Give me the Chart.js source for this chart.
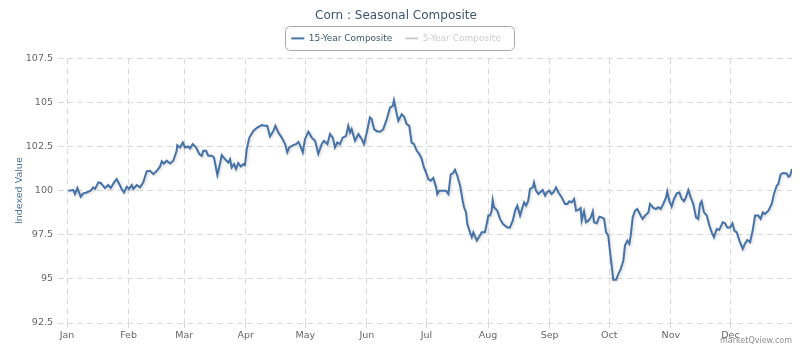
<!DOCTYPE html>
<html>
<head>
<meta charset="utf-8">
<title>Corn : Seasonal Composite</title>
<script src="https://cdn.jsdelivr.net/npm/chart.js@4/dist/chart.umd.min.js"></script>
<style>
  html, body { margin: 0; padding: 0; background: #fff; }
  #wrap { width: 800px; height: 348px; position: relative; }
</style>
</head>
<body>
<div id="wrap"><canvas id="corn-chart"></canvas></div>
<script>
// Month labels and the day of year each month starts on
const monthLabels = ['Jan', 'Feb', 'Mar', 'Apr', 'May', 'Jun', 'Jul', 'Aug', 'Sep', 'Oct', 'Nov', 'Dec'];
const monthStarts = [0, 31, 59, 90, 120, 151, 181, 212, 243, 273, 304, 334];

const yTicks = [92.5, 95, 97.5, 100, 102.5, 105, 107.5];

// 15-year composite: day of year / indexed value
const compositeDays = [
  0.7, 3.2, 4.0, 5.2, 6.9, 8.2, 9.9, 11.9, 13.2, 14.1, 15.8, 17.0, 19.1, 20.8, 22.0, 23.7, 25.0, 26.3, 27.5, 28.7,
  30.1, 31.2, 32.6, 33.4, 35.1, 36.8, 38.4, 40.1, 41.8, 43.5, 45.2, 46.8, 47.7, 48.8, 50.2, 51.9, 53.5, 55.2, 55.5, 56.9,
  58.3, 59.4, 61.1, 61.9, 63.3, 65.0, 66.6, 67.8, 68.6, 70.0, 71.1, 72.9, 74.0, 75.7, 77.0, 77.9, 79.5, 81.2, 82.1, 82.9,
  84.1, 85.1, 86.2, 87.5, 88.8, 89.6, 90.5, 91.8, 93.8, 95.8, 98.0, 99.7, 100.8, 102.2, 103.9, 104.9, 106.4, 108.1, 109.8, 110.9,
  111.9, 113.9, 115.3, 116.5, 117.3, 118.7, 119.8, 121.5, 123.2, 124.9, 126.5, 128.2, 129.4, 131.1, 132.4, 133.8, 134.9, 136.1, 137.4, 138.8,
  140.5, 141.6, 142.5, 143.3, 145.0, 146.7, 148.4, 149.5, 150.9, 152.5, 153.4, 154.6, 156.2, 157.9, 159.2, 161.0, 162.6, 164.0, 164.6, 166.0,
  166.8, 168.5, 169.7, 171.0, 172.3, 173.5, 174.7, 176.1, 177.4, 178.6, 179.7, 180.7, 181.9, 183.1, 184.4, 185.8, 186.4, 187.4, 189.2, 190.8,
  192.0, 193.2, 194.2, 195.3, 196.5, 197.9, 199.2, 199.9, 200.9, 201.5, 202.9, 203.8, 204.6, 206.3, 207.6, 208.8, 210.4, 211.3, 212.1, 213.0,
  213.8, 214.3, 215.0, 216.6, 218.0, 219.4, 220.5, 221.7, 223.0, 224.4, 225.6, 226.7, 228.1, 228.9, 230.1, 231.1, 232.2, 233.1, 234.5, 235.1,
  236.1, 237.3, 238.1, 239.5, 240.7, 241.5, 242.8, 244.0, 244.8, 246.2, 247.4, 249.1, 250.7, 251.9, 252.9, 254.1, 255.3, 256.3, 257.4, 258.6,
  259.1, 260.3, 261.3, 262.5, 263.7, 264.7, 265.3, 266.7, 268.0, 269.2, 270.4, 271.4, 272.5, 273.4, 274.2, 275.0, 276.4, 277.6, 278.8, 280.1,
  280.9, 282.1, 283.1, 283.8, 284.8, 286.0, 287.1, 288.8, 289.8, 291.0, 292.7, 293.5, 295.2, 296.5, 297.7, 298.9, 300.2, 301.6, 302.2, 303.2,
  304.4, 305.6, 307.0, 308.3, 309.5, 310.6, 311.6, 312.8, 314.0, 315.3, 316.7, 317.8, 318.7, 319.5, 320.7, 322.1, 323.4, 324.6, 325.7, 327.1,
  328.4, 330.1, 331.3, 332.4, 333.8, 335.0, 336.0, 337.2, 338.5, 340.2, 341.3, 342.5, 343.9, 345.2, 346.4, 348.0, 349.2, 350.3, 351.4, 353.1,
  354.8, 355.9, 357.3, 358.1, 359.3, 360.6, 362.3, 363.2, 364.0, 365.0
];
const compositeValues = [
  100.00, 100.04, 99.81, 100.15, 99.66, 99.85, 99.90, 100.00, 100.19, 100.10, 100.47, 100.44, 100.15, 100.32, 100.15, 100.47, 100.66, 100.38, 100.10, 99.90,
  100.23, 100.10, 100.32, 100.10, 100.32, 100.19, 100.47, 101.09, 101.13, 100.94, 101.13, 101.36, 101.66, 101.54, 101.70, 101.54, 101.70, 102.26, 102.58, 102.45,
  102.73, 102.45, 102.51, 102.39, 102.64, 102.45, 102.08, 101.98, 102.26, 102.26, 101.98, 101.98, 101.88, 100.89, 101.51, 102.02, 101.79, 101.60, 101.79, 101.32,
  101.51, 101.23, 101.57, 101.37, 101.51, 101.45, 102.36, 103.01, 103.39, 103.58, 103.72, 103.68, 103.68, 103.07, 103.39, 103.68, 103.30, 103.01, 102.64, 102.17,
  102.45, 102.58, 102.64, 102.77, 102.58, 102.17, 102.92, 103.35, 103.01, 102.83, 102.08, 102.64, 102.83, 102.64, 103.21, 103.01, 102.45, 102.73, 102.64, 103.01,
  103.11, 103.68, 103.30, 103.49, 102.83, 103.21, 102.92, 102.64, 103.30, 104.15, 104.06, 103.49, 103.35, 103.35, 103.49, 104.06, 104.71, 104.81, 105.13, 104.34,
  103.96, 104.34, 104.19, 103.77, 103.68, 102.73, 102.64, 102.26, 102.08, 101.79, 101.32, 101.04, 100.66, 100.57, 100.72, 100.19, 99.81, 100.00, 100.00, 100.00,
  99.81, 100.94, 100.98, 101.19, 100.85, 100.28, 99.43, 99.06, 98.77, 98.12, 97.64, 97.36, 97.64, 97.17, 97.40, 97.64, 97.64, 98.12, 98.59, 98.59,
  98.87, 99.47, 99.06, 98.87, 98.40, 98.12, 98.02, 97.92, 97.92, 98.30, 98.87, 99.15, 98.59, 98.91, 99.34, 99.15, 99.43, 100.10, 100.19, 100.47,
  100.00, 99.81, 99.90, 100.04, 99.72, 99.90, 100.00, 99.81, 99.90, 100.19, 99.90, 99.62, 99.25, 99.25, 99.40, 99.34, 99.53, 98.87, 98.91, 99.02,
  98.30, 98.83, 98.21, 98.30, 98.49, 98.83, 98.21, 98.15, 98.53, 98.49, 98.40, 97.64, 97.45, 96.51, 95.76, 94.95, 94.95, 95.29, 95.57, 96.04,
  96.89, 97.17, 96.99, 97.45, 98.49, 98.87, 98.96, 98.59, 98.40, 98.59, 98.77, 99.25, 99.02, 98.96, 99.06, 98.96, 99.25, 99.62, 99.96, 99.43,
  99.10, 99.53, 99.85, 99.90, 99.53, 99.40, 99.62, 100.04, 99.62, 99.25, 98.49, 98.40, 99.25, 99.40, 98.77, 98.59, 98.02, 97.64, 97.36, 97.83,
  97.78, 98.21, 98.15, 97.92, 97.92, 98.15, 97.74, 97.64, 97.17, 96.70, 96.99, 97.21, 97.08, 97.74, 98.59, 98.59, 98.40, 98.77, 98.68, 98.87,
  99.25, 99.81, 100.28, 100.38, 100.94, 101.00, 100.98, 100.79, 100.85, 101.23
];

const FONT = '"Lucida Grande", "Lucida Sans Unicode", "DejaVu Sans", Verdana, sans-serif';
const LINE_BLUE = '#4572a7';
const GRID = '#d9d9d9';

// Rounded frame around the legend items
const legendFrame = {
  id: 'legendFrame',
  afterDraw(chart) {
    const boxes = chart.legend && chart.legend.legendHitBoxes;
    if (!boxes || !boxes.length) return;
    const left = Math.min(...boxes.map(b => b.left)) - 6;
    const right = Math.max(...boxes.map(b => b.left + b.width)) + 14;
    const top = Math.min(...boxes.map(b => b.top)) - 8;
    const bottom = Math.max(...boxes.map(b => b.top + b.height)) + 7;
    const ctx = chart.ctx;
    ctx.save();
    ctx.strokeStyle = '#a8a8a8';
    ctx.lineWidth = 1;
    ctx.beginPath();
    ctx.roundRect(Math.round(left) + 0.5, Math.round(top) + 0.5, Math.round(right - left), Math.round(bottom - top), 5);
    ctx.stroke();
    ctx.restore();
  }
};

// Soft shadow under the series line
const lineShadow = {
  id: 'lineShadow',
  beforeDatasetsDraw(chart) {
    const ctx = chart.ctx;
    ctx.save();
    ctx.shadowColor = 'rgba(0, 0, 0, 0.18)';
    ctx.shadowBlur = 3;
    ctx.shadowOffsetX = 1;
    ctx.shadowOffsetY = 1;
  },
  afterDatasetsDraw(chart) {
    chart.ctx.restore();
  }
};

// Source credit, bottom right
const credit = {
  id: 'credit',
  afterDraw(chart) {
    const ctx = chart.ctx;
    ctx.save();
    ctx.font = '8px ' + FONT;
    ctx.fillStyle = '#909090';
    ctx.textAlign = 'right';
    ctx.textBaseline = 'middle';
    ctx.fillText('marketQview.com', 792, 341);
    ctx.restore();
  }
};

new Chart(document.getElementById('corn-chart'), {
  type: 'line',
  data: {
    datasets: [
      {
        label: '15-Year Composite',
        data: compositeDays.map((d, i) => ({ x: d, y: compositeValues[i] })),
        borderColor: LINE_BLUE,
        backgroundColor: LINE_BLUE,
        borderWidth: 2,
        pointRadius: 0,
        tension: 0
      },
      {
        label: '5-Year Composite',
        data: [],
        hidden: true,
        borderColor: '#cccccc'
      }
    ]
  },
  options: {
    responsive: true,
    maintainAspectRatio: false,
    animation: false,
    events: [],
    layout: { padding: { left: 0, right: 8, top: 0, bottom: 0 } },
    plugins: {
      title: {
        display: true,
        text: 'Corn : Seasonal Composite',
        color: '#3e576f',
        font: { family: FONT, size: 12, weight: 'normal' },
        padding: { top: 9, bottom: -2.5 }
      },
      // empty box between the legend and the plot, used as a gap
      subtitle: {
        display: true,
        text: '',
        weight: 500,
        font: { size: 1 },
        padding: { top: 0, bottom: 4.3 }
      },
      legend: {
        display: true,
        onClick: null,
        labels: {
          font: { family: FONT, size: 9 },
          boxWidth: 13,
          boxHeight: 2,
          padding: 13,
          generateLabels: chart => chart.data.datasets.map((ds, i) => ({
            text: ds.label,
            fillStyle: ds.hidden ? '#cccccc' : LINE_BLUE,
            strokeStyle: ds.hidden ? '#cccccc' : LINE_BLUE,
            fontColor: ds.hidden ? '#cccccc' : '#3e576f',
            lineWidth: 0,
            hidden: false,
            datasetIndex: i
          }))
        }
      },
      tooltip: { enabled: false }
    },
    scales: {
      x: {
        type: 'linear',
        min: 0,
        max: 365,
        afterBuildTicks: scale => { scale.ticks = monthStarts.map(v => ({ value: v })); },
        afterFit: scale => { scale.height = 25; },
        ticks: {
          autoSkip: false,
          maxRotation: 0,
          padding: 2,
          color: '#666666',
          font: { family: FONT, size: 9.5 },
          callback: value => monthLabels[monthStarts.indexOf(value)]
        },
        grid: {
          color: GRID,
          borderDash: [6, 4],
          tickLength: 5,
          tickColor: GRID,
          tickBorderDash: [6, 4]
        },
        border: { display: false, dash: [6, 4] }
      },
      y: {
        min: 92.5,
        max: 107.5,
        afterBuildTicks: scale => { scale.ticks = yTicks.map(v => ({ value: v })); },
        afterFit: scale => { scale.width = 67; },
        title: {
          display: true,
          text: 'Indexed Value',
          color: '#4d759e',
          font: { family: FONT, size: 9.5, weight: 'normal' },
          padding: { top: 14, bottom: 0 }
        },
        ticks: {
          padding: 5,
          color: '#666666',
          font: { family: FONT, size: 9.5 },
          callback: value => String(value)
        },
        grid: {
          color: GRID,
          borderDash: [6, 4],
          tickLength: 9,
          tickColor: GRID,
          tickBorderDash: [6, 4]
        },
        border: { display: false, dash: [6, 4] }
      }
    }
  },
  plugins: [legendFrame, lineShadow, credit]
});
</script>
</body>
</html>
